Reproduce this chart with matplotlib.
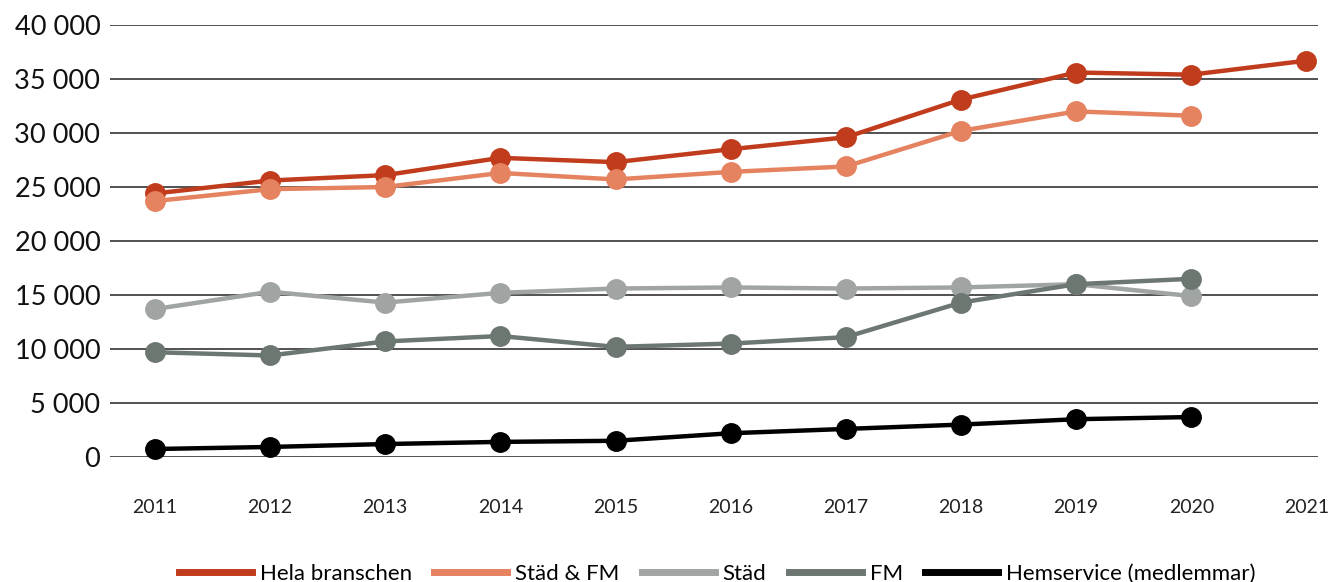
import matplotlib.pyplot as plt
from matplotlib.ticker import FuncFormatter

# data
years = [2011, 2012, 2013, 2014, 2015, 2016, 2017, 2018, 2019, 2020, 2021]
hela = [24400, 25600, 26100, 27700, 27300, 28500, 29600, 33100, 35600, 35400, 36700]
stad_fm = [23700, 24800, 25000, 26300, 25700, 26400, 26900, 30200, 32000, 31600]
stad = [13700, 15300, 14300, 15200, 15600, 15700, 15600, 15700, 16000, 14900]
fm = [9700, 9400, 10700, 11200, 10200, 10500, 11100, 14300, 16000, 16500]
hemservice = [740, 930, 1200, 1400, 1500, 2200, 2600, 3000, 3500, 3700]

series = [
    ('Hela branschen', hela, '#c03c1c'),
    ('Städ & FM', stad_fm, '#e5825f'),
    ('Städ', stad, '#a0a4a2'),
    ('FM', fm, '#6d7772'),
    ('Hemservice (medlemmar)', hemservice, '#000000'),
]

plt.rcParams['font.family'] = ['Lato', 'DejaVu Sans']

fig = plt.figure(figsize=(13.33, 5.82), dpi=100)
ax = fig.add_axes([110 / 1333, 1 - 457 / 582, (1318 - 110) / 1333, (457 - 25) / 582])

for name, vals, col in series:
    ax.plot(years[:len(vals)], vals, color=col, lw=3.2, marker='o', markersize=14,
            label=name, clip_on=False, zorder=3)

ax.set_ylim(0, 40000)
ax.set_xlim(2010.61, 2021.1)
ax.set_yticks(range(0, 40001, 5000))
ax.set_xticks(years)
ax.yaxis.set_major_formatter(FuncFormatter(lambda v, p: f'{int(v):,}'.replace(',', ' ')))
ax.grid(axis='y', color='#222222', lw=1.1)
ax.set_axisbelow(True)
for s in ax.spines.values():
    s.set_visible(False)
ax.tick_params(axis='y', length=0, labelsize=19.5, pad=7, labelcolor='#111111')
ax.tick_params(axis='x', length=0, labelsize=14, pad=30, labelcolor='#222222')

handles, labels = ax.get_legend_handles_labels()
leg_handles = [plt.Line2D([], [], color=h.get_color(), lw=5) for h in handles]
fig.legend(leg_handles, labels, loc='center', bbox_to_anchor=(0.538, 0.014), ncol=5,
           frameon=False, fontsize=16, handlelength=3.3, handletextpad=0.35,
           columnspacing=1.0)

fig.savefig('out.png', dpi=100)
